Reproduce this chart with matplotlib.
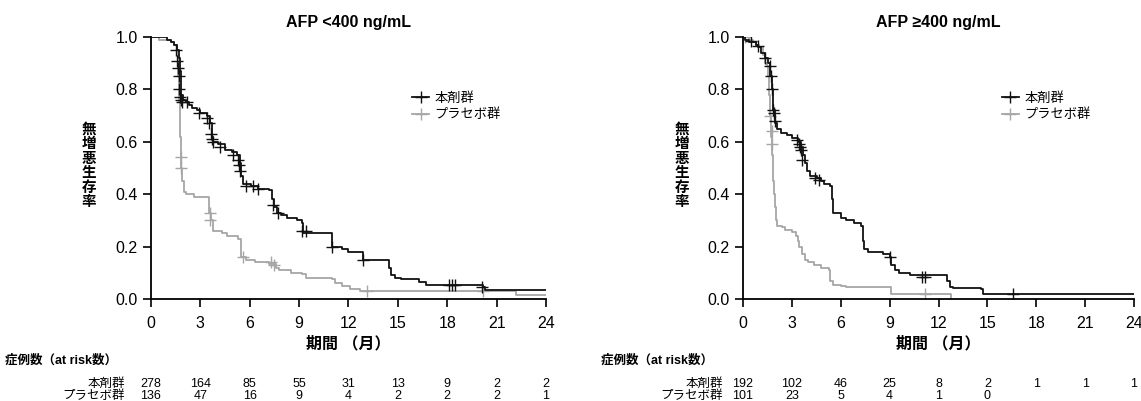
import matplotlib
matplotlib.use("Agg")
import matplotlib.pyplot as plt
from matplotlib.lines import Line2D
import matplotlib.transforms as mtransforms

plt.rcParams['font.family'] = ['Liberation Sans', 'Noto Sans CJK JP', 'DejaVu Sans']

# ---- data ----
months = [0, 3, 6, 9, 12, 15, 18, 21, 24]
titles = ["AFP <400 ng/mL", "AFP ≥400 ng/mL"]
arm_names = ["本剤群", "プラセボ群"]
ylabel = "無増悪生存率"

# AFP <400, drug
lo_drug_t = [0, 0.95, 1.2, 1.4, 1.6, 1.7, 1.75, 1.8, 1.85, 1.95, 2.1, 2.3, 2.5, 2.8, 3.0,
             3.4, 3.6, 3.7, 3.75, 4.05, 4.5, 4.9, 5.25, 5.4, 5.5, 5.6, 6.05, 6.5, 7.15, 7.35,
             7.5, 7.65, 7.9, 8.25, 8.9, 9.15, 9.25, 11.0, 11.6, 12.0, 12.9, 14.45, 14.6, 14.8,
             15.2, 16.3, 16.7, 20.15, 20.3, 24]
lo_drug_s = [1.0, 0.99, 0.98, 0.97, 0.95, 0.92, 0.87, 0.82, 0.78, 0.76, 0.75, 0.74, 0.73, 0.72, 0.71,
             0.70, 0.67, 0.62, 0.60, 0.59, 0.57, 0.56, 0.55, 0.52, 0.47, 0.44, 0.43, 0.42, 0.415, 0.38,
             0.35, 0.33, 0.32, 0.31, 0.30, 0.29, 0.25, 0.20, 0.19, 0.18, 0.15, 0.12, 0.09, 0.08,
             0.075, 0.065, 0.055, 0.045, 0.035, 0.035]
lo_drug_ct = [1.55, 1.6, 1.65, 1.7, 1.72, 1.75, 1.8, 1.9, 2.2, 2.9, 3.4, 3.55, 3.65, 3.7, 3.75, 4.2,
              5.0, 5.3, 5.35, 5.4, 5.75, 6.2, 6.5, 7.4, 7.7, 9.2, 9.4, 11.0, 12.9, 18.1, 18.3, 18.5, 20.1]
lo_drug_cs = [0.95, 0.91, 0.88, 0.85, 0.80, 0.77, 0.76, 0.75, 0.75, 0.71, 0.69, 0.67, 0.63, 0.61, 0.60, 0.58,
              0.55, 0.53, 0.51, 0.49, 0.43, 0.43, 0.42, 0.36, 0.33, 0.26, 0.26, 0.20, 0.15, 0.055, 0.055, 0.055, 0.045]

# AFP <400, placebo
lo_pbo_t = [0, 0.5, 1.2, 1.4, 1.6, 1.65, 1.7, 1.75, 1.8, 1.85, 1.9, 2.0, 2.1, 2.6, 3.5, 3.55, 3.65,
            3.8, 4.3, 4.6, 5.3, 5.45, 5.8, 6.3, 7.15, 7.6, 7.8, 8.5, 9.15, 9.4, 11.0, 11.2, 11.6,
            12.1, 12.7, 22.2, 24]
lo_pbo_s = [1.0, 0.99, 0.98, 0.97, 0.93, 0.85, 0.75, 0.62, 0.54, 0.50, 0.45, 0.41, 0.40, 0.39, 0.36, 0.33, 0.30,
            0.26, 0.25, 0.24, 0.23, 0.16, 0.15, 0.14, 0.135, 0.12, 0.11, 0.10, 0.095, 0.08, 0.075, 0.06, 0.05,
            0.04, 0.03, 0.015, 0.015]
lo_pbo_ct = [1.8, 1.8, 3.6, 3.6, 5.6, 7.3, 7.5, 13.1, 20.2]
lo_pbo_cs = [0.54, 0.50, 0.33, 0.30, 0.16, 0.14, 0.13, 0.03, 0.03]

# AFP >=400, drug
hi_drug_t = [0, 0.1, 0.35, 0.8, 0.95, 1.1, 1.35, 1.55, 1.67, 1.78, 1.85, 1.95, 2.1, 2.35, 2.7, 3.0,
             3.35, 3.55, 3.7, 3.8, 3.95, 4.1, 4.55, 4.8, 5.0, 5.35, 5.45, 5.55, 6.0, 6.35, 6.8, 7.25,
             7.35, 7.45, 7.7, 8.6, 9.0, 9.1, 9.35, 9.6, 10.25, 12.5, 12.7, 12.9, 14.6, 14.7, 24]
hi_drug_s = [1.0, 0.99, 0.98, 0.97, 0.96, 0.94, 0.92, 0.90, 0.85, 0.80, 0.72, 0.67, 0.65, 0.635, 0.625, 0.615,
             0.60, 0.58, 0.55, 0.52, 0.49, 0.47, 0.46, 0.45, 0.44, 0.43, 0.38, 0.33, 0.31, 0.30, 0.29, 0.28,
             0.22, 0.19, 0.18, 0.17, 0.16, 0.13, 0.11, 0.10, 0.09, 0.07, 0.045, 0.042, 0.04, 0.02, 0.02]
hi_drug_ct = [0.5, 0.9, 1.35, 1.65, 1.7, 1.78, 1.85, 1.9, 1.95, 3.3, 3.45, 3.5, 3.55, 3.65, 4.4, 4.65,
              9.0, 11.0, 11.2, 16.6]
hi_drug_cs = [0.985, 0.965, 0.92, 0.89, 0.85, 0.80, 0.72, 0.71, 0.68, 0.605, 0.59, 0.58, 0.57, 0.53, 0.46, 0.455,
              0.16, 0.085, 0.085, 0.02]

# AFP >=400, placebo
hi_pbo_t = [0, 0.35, 0.6, 0.8, 1.0, 1.2, 1.35, 1.45, 1.55, 1.6, 1.67, 1.72, 1.78, 1.85, 1.9, 1.97, 2.05,
            2.1, 2.4, 2.55, 3.0, 3.25, 3.35, 3.45, 3.65, 3.8, 4.0, 4.35, 4.8, 5.25, 5.35, 5.55, 6.0,
            6.35, 9.1, 12.75]
hi_pbo_s = [1.0, 0.99, 0.98, 0.97, 0.96, 0.93, 0.90, 0.89, 0.85, 0.78, 0.70, 0.62, 0.55, 0.45, 0.40, 0.35, 0.30,
            0.28, 0.275, 0.265, 0.255, 0.24, 0.22, 0.20, 0.17, 0.15, 0.14, 0.13, 0.12, 0.11, 0.07, 0.055, 0.05,
            0.045, 0.02, 0.0]
hi_pbo_ct = [0.1, 1.65, 1.75, 1.8, 11.2]
hi_pbo_cs = [1.0, 0.70, 0.64, 0.59, 0.02]

# numbers at risk
lo_drug_risk = [278, 164, 85, 55, 31, 13, 9, 2, 2]
lo_pbo_risk = [136, 47, 16, 9, 4, 2, 2, 2, 1]
hi_drug_risk = [192, 102, 46, 25, 8, 2, 1, 1, 1]
hi_pbo_risk = [101, 23, 5, 4, 1, 0]

DRUG_C = '#111111'
PBO_C = '#a6a6a6'

fig = plt.figure(figsize=(11.41, 4.01), dpi=100)
ax1 = fig.add_axes([0.1323, 0.2544, 0.3462, 0.6534])
ax2 = fig.add_axes([0.6512, 0.2544, 0.3427, 0.6534])

panels = [
    (ax1, (lo_drug_t, lo_drug_s, lo_drug_ct, lo_drug_cs), (lo_pbo_t, lo_pbo_s, lo_pbo_ct, lo_pbo_cs),
     lo_drug_risk, lo_pbo_risk, 0.0781, 0.1096, 0.0044),
    (ax2, (hi_drug_t, hi_drug_s, hi_drug_ct, hi_drug_cs), (hi_pbo_t, hi_pbo_s, hi_pbo_ct, hi_pbo_cs),
     hi_drug_risk, hi_pbo_risk, 0.5974, 0.6337, 0.5267),
]

for i, (ax, drug, pbo, drisk, prisk, ylab_x, row_x, head_x) in enumerate(panels):
    # placebo first so drug sits on top
    for (t, s, ct, cs), col in [(pbo, PBO_C), (drug, DRUG_C)]:
        ax.step(t, s, where='post', color=col, lw=1.3)
        ax.plot(ct, cs, ls='none', marker='+', ms=8, mew=1.0, color=col)

    ax.set_xlim(0, 24)
    ax.set_ylim(0, 1.0)
    ax.set_xticks(months)
    ax.set_yticks([0.0, 0.2, 0.4, 0.6, 0.8, 1.0])
    ax.set_yticklabels(['0.0', '0.2', '0.4', '0.6', '0.8', '1.0'])
    ax.tick_params(direction='out', length=6, width=1.2, labelsize=11.5)
    ax.tick_params(axis='x', pad=6)
    ax.tick_params(axis='y', pad=3.5)
    for side in ['top', 'right']:
        ax.spines[side].set_visible(False)
    for side in ['left', 'bottom']:
        ax.spines[side].set_linewidth(1.3)
    ax.set_title(titles[i], fontsize=11.5, fontweight='bold', pad=7)
    ax.set_xlabel("期間 （月）", fontsize=11.5, fontweight='bold', labelpad=4)

    # legend
    handles = [Line2D([], [], color=DRUG_C, marker='+', ms=8, mew=1.0, lw=1.3),
               Line2D([], [], color=PBO_C, marker='+', ms=8, mew=1.0, lw=1.3)]
    ax.legend(handles, arm_names, loc='upper left', bbox_to_anchor=(0.645, 0.815),
              frameon=False, fontsize=9.5, handlelength=1.3, handletextpad=0.4,
              labelspacing=0.3, borderpad=0)

    # vertical y label, one character per line
    pitch = 14.5 / 401
    y0 = 0.586 + pitch * (len(ylabel) - 1) / 2
    for k, ch in enumerate(ylabel):
        fig.text(ylab_x, y0 - k * pitch, ch, ha='center', va='center',
                 fontsize=10.5, fontweight='bold')

    # at-risk table
    trans = mtransforms.blended_transform_factory(ax.transData, fig.transFigure)
    fig.text(head_x, 0.102, "症例数（at risk数）", ha='left', va='center',
             fontsize=9, fontweight='bold')
    fig.text(row_x, 0.042, arm_names[0], ha='right', va='center', fontsize=9)
    fig.text(row_x, 0.013, arm_names[1], ha='right', va='center', fontsize=9)
    for m, n in zip(months, drisk):
        ax.text(m, 0.042, str(n), transform=trans, ha='center', va='center', fontsize=9)
    for m, n in zip(months, prisk):
        ax.text(m, 0.013, str(n), transform=trans, ha='center', va='center', fontsize=9)

fig.savefig('out.png', dpi=100)
